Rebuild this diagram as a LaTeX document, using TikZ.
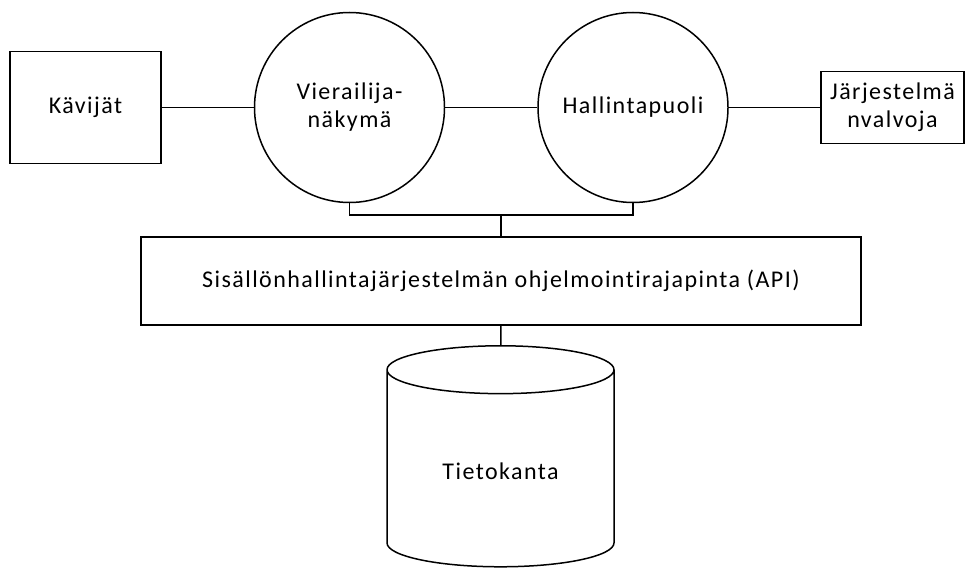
\documentclass[tikz,border=0pt]{standalone}
\usepackage{fontspec}
\setmainfont{Carlito}[LetterSpace=6,Ligatures=NoCommon]
\usepackage{tikz}
\usetikzlibrary{shapes}
\usetikzlibrary{calc}

\begin{document}
\begin{tikzpicture}[x=1pt,y=-1pt,line width=1.5pt]
    \useasboundingbox (0,0) rectangle (965,583);
    \begin{scope}[every node/.style={draw,font=\fontsize{24}{28}\selectfont,align=center}]
      \node[rectangle,minimum width=151pt,minimum height=112pt] (1) at (85.5,107.5) {Kävijät};
      \node[circle,minimum size=190pt] (2) at (349.5,107.5) {Vierailija-\\näkymä};
      \node[circle,minimum size=190pt] (3) at (633,107.5) {Hallintapuoli};
      \node[rectangle,minimum width=143pt,minimum height=72pt,inner sep=0pt] (4) at (892.5,107.5) {Järjestelmä\\nvalvoja};
      \node[rectangle,minimum width=720pt,minimum height=88pt] (5) at (501,281) {Sisällönhallintajärjestelmän ohjelmointirajapinta (API)};
      \node[cylinder,shape border rotate=90,aspect=0.39,minimum width=227pt,minimum height=221pt] (6) at (500.5,471.5) {Tietokanta};
    \end{scope}
    \begin{scope}[every edge/.style={draw=black,line width=1.5pt}]
      \path (1) edge (2);
      \path (2) edge (3);
      \path (3) edge (4);
      \path (5) edge (6);
    \end{scope}
    \coordinate (j) at (0,215);
    \draw (2.south) -- (2.south |- j) -| (3.south);
    \draw (5.north) -- (5.north |- j);
\end{tikzpicture}
\end{document}
